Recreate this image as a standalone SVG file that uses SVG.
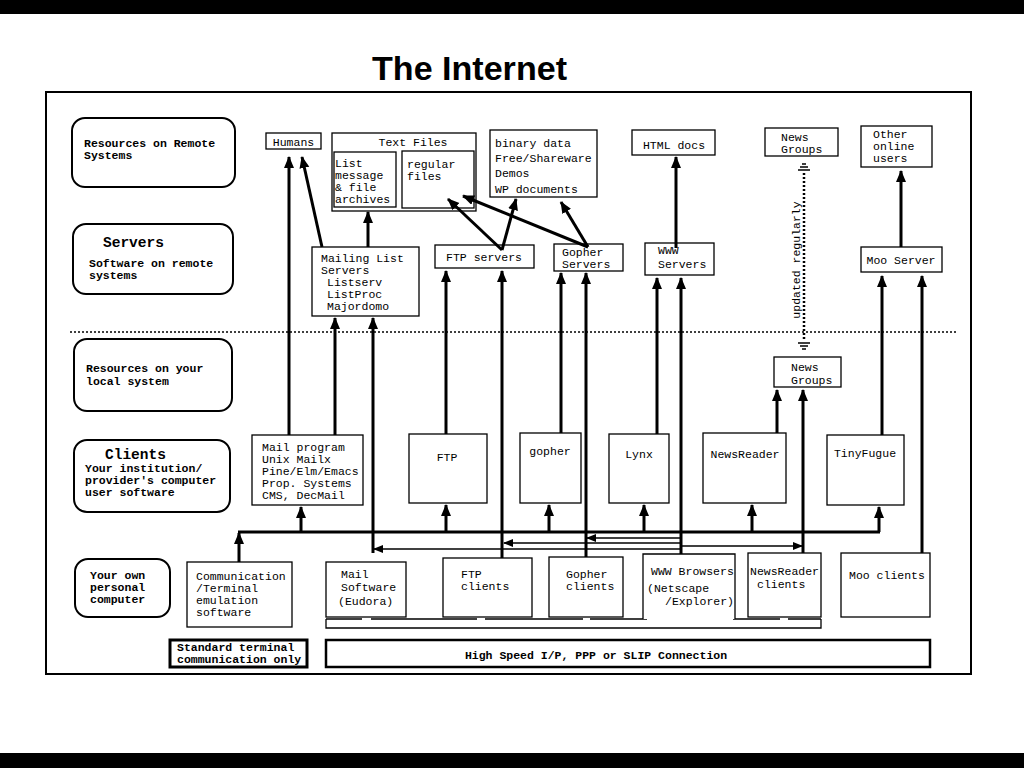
<svg xmlns="http://www.w3.org/2000/svg" width="1024" height="768" viewBox="0 0 1024 768">
<style>
.t{font-family:"Liberation Mono","DejaVu Sans Mono",monospace;font-size:11.5px;fill:#000}
.b{font-weight:bold}
.big{font-size:14.5px}
.m{text-anchor:middle}
.box{fill:#fff;stroke:#000;stroke-width:1.3}
.ln{fill:none;stroke:#000;stroke-width:1.3}
.cat{fill:#fff;stroke:#000;stroke-width:2}
.c{stroke:#000;stroke-width:3;fill:none}
.th{stroke:#000;stroke-width:1.5;fill:none}
.dot{stroke:#000;fill:none;stroke-dasharray:2,2}
</style>
<defs>
<marker id="ah" markerUnits="userSpaceOnUse" markerWidth="14" markerHeight="12" refX="11" refY="5" orient="auto">
<path d="M0,0 L12,5 L0,10 z" fill="#000"/>
</marker>
<marker id="as" markerUnits="userSpaceOnUse" markerWidth="11" markerHeight="10" refX="9" refY="4" orient="auto">
<path d="M0,0 L10,4 L0,8 z" fill="#000"/>
</marker>
</defs>
<rect x="0" y="0" width="1024" height="768" fill="#fff"/>
<rect x="0" y="0" width="1024" height="14" fill="#000"/>
<rect x="0" y="753" width="1024" height="15" fill="#000"/>
<text x="372" y="80" font-family="Liberation Sans,Arial,sans-serif" font-weight="bold" font-size="34" textLength="195" lengthAdjust="spacingAndGlyphs">The Internet</text>
<rect x="46" y="92" width="925" height="582" fill="none" stroke="#000" stroke-width="2"/>
<line class="dot" x1="70" y1="332" x2="957" y2="332" stroke-width="1.3"/>

<g id="cat-remote"><rect class="cat" x="72" y="118" width="163" height="69" rx="13"/>
<text class="t b" x="84" y="147">Resources on Remote</text><text class="t b" x="84" y="159">Systems</text></g>
<g id="cat-servers"><rect class="cat" x="73" y="224" width="160" height="70" rx="13"/>
<text class="t b big" x="103" y="247">Servers</text><text class="t b" x="89" y="267">Software on remote</text><text class="t b" x="89" y="279">systems</text></g>
<g id="cat-local"><rect class="cat" x="74" y="339" width="158" height="72" rx="13"/>
<text class="t b" x="86" y="372">Resources on your</text><text class="t b" x="86" y="385">local system</text></g>
<g id="cat-clients"><rect class="cat" x="74" y="440" width="156" height="72" rx="13"/>
<text class="t b big" x="105" y="459">Clients</text><text class="t b" x="85" y="472">Your institution/</text><text class="t b" x="85" y="484">provider's computer</text><text class="t b" x="85" y="496">user software</text></g>
<g id="cat-pc"><rect class="cat" x="75" y="559" width="95" height="58" rx="13"/>
<text class="t b" x="90" y="579">Your own</text><text class="t b" x="90" y="591">personal</text><text class="t b" x="90" y="603">computer</text></g>

<g id="humans"><rect class="box" x="266" y="133" width="55" height="16"/><text class="t m" x="293.5" y="146">Humans</text></g>
<g id="textfiles"><rect class="box" x="332" y="133" width="144" height="78"/><text class="t m" x="413" y="146">Text Files</text>
<rect class="box" x="334" y="152" width="62" height="55"/>
<text class="t" x="335" y="167">List</text><text class="t" x="335" y="179">message</text><text class="t" x="335" y="191">&amp; file</text><text class="t" x="335" y="203">archives</text>
<rect class="box" x="402" y="151" width="72" height="57"/>
<text class="t" x="407" y="168">regular</text><text class="t" x="407" y="180">files</text></g>
<g id="binary"><rect class="box" x="490" y="130" width="107" height="67"/>
<text class="t" x="495" y="147">binary data</text><text class="t" x="495" y="162">Free/Shareware</text><text class="t" x="495" y="177">Demos</text><text class="t" x="495" y="193">WP documents</text></g>
<g id="htmldocs"><rect class="box" x="632" y="130" width="83" height="25"/><text class="t m" x="674" y="149">HTML docs</text></g>
<g id="newsgroups-remote"><rect class="box" x="765" y="128" width="73" height="28"/><text class="t" x="781" y="141">News</text><text class="t" x="781" y="153">Groups</text></g>
<g id="otherusers"><rect class="box" x="861" y="126" width="71" height="41"/><text class="t" x="873" y="138">Other</text><text class="t" x="873" y="150">online</text><text class="t" x="873" y="162">users</text></g>

<g id="mailinglist"><rect class="box" x="312" y="247" width="107" height="69"/>
<text class="t" x="321" y="262">Mailing List</text><text class="t" x="321" y="274">Servers</text><text class="t" x="327" y="286">Listserv</text><text class="t" x="327" y="298">ListProc</text><text class="t" x="327" y="310">Majordomo</text></g>
<g id="ftpservers"><rect class="box" x="435" y="245" width="99" height="23"/><text class="t m" x="484" y="261">FTP servers</text></g>
<g id="gopherservers"><rect class="box" x="554" y="244" width="69" height="27"/><text class="t" x="562" y="256">Gopher</text><text class="t" x="562" y="268">Servers</text></g>
<g id="wwwservers"><rect class="box" x="645" y="243" width="69" height="32"/><text class="t" x="658" y="254">WWW</text><text class="t" x="658" y="268">Servers</text></g>
<g id="mooserver"><rect class="box" x="861" y="247" width="81" height="25"/><text class="t m" x="901" y="264">Moo Server</text></g>
<g id="newsgroups-local"><rect class="box" x="774" y="357" width="67" height="30"/><text class="t" x="791" y="371">News</text><text class="t" x="791" y="384">Groups</text></g>

<g id="mailprogram"><rect class="box" x="252" y="435" width="111" height="70"/>
<text class="t" x="262" y="451">Mail program</text><text class="t" x="262" y="463">Unix Mailx</text><text class="t" x="262" y="475">Pine/Elm/Emacs</text><text class="t" x="262" y="487">Prop. Systems</text><text class="t" x="262" y="499">CMS, DecMail</text></g>
<g id="ftp"><rect class="box" x="409" y="434" width="78" height="69"/><text class="t m" x="447" y="461">FTP</text></g>
<g id="gopher"><rect class="box" x="520" y="433" width="61" height="70"/><text class="t m" x="550" y="455">gopher</text></g>
<g id="lynx"><rect class="box" x="609" y="434" width="60" height="69"/><text class="t m" x="639" y="458">Lynx</text></g>
<g id="newsreader"><rect class="box" x="703" y="433" width="83" height="70"/><text class="t m" x="745" y="458">NewsReader</text></g>
<g id="tinyfugue"><rect class="box" x="827" y="435" width="77" height="70"/><text class="t m" x="865" y="457">TinyFugue</text></g>

<g id="comm"><rect class="box" x="187" y="562" width="105" height="65"/>
<text class="t" x="196" y="580">Communication</text><text class="t" x="196" y="592">/Terminal</text><text class="t" x="196" y="604">emulation</text><text class="t" x="196" y="616">software</text></g>
<g id="desk"><path class="ln" d="M326,619 H362 M371,619 H477 M485,619 H583 M590,619 H647 M733,619 H780 M788,619 H821 M326,619 V628 H821 V619"/></g>
<g id="mailsoftware"><rect class="box" x="326" y="562" width="80" height="55"/>
<text class="t" x="341" y="578">Mail</text><text class="t" x="341" y="591">Software</text><text class="t" x="338" y="605">(Eudora)</text></g>
<g id="ftpclients"><rect class="box" x="443" y="558" width="89" height="59"/><text class="t" x="461" y="578">FTP</text><text class="t" x="461" y="590">clients</text></g>
<g id="gopherclients"><rect class="box" x="549" y="557" width="74" height="60"/><text class="t" x="566" y="578">Gopher</text><text class="t" x="566" y="590">clients</text></g>
<g id="wwwbrowsers"><path class="box" d="M643,619 V554 H735 V619"/>
<text class="t" x="651" y="575">WWW Browsers</text><text class="t" x="647" y="592">(Netscape</text><text class="t" x="665" y="605">/Explorer)</text></g>
<g id="newsclients"><rect class="box" x="748" y="553" width="73" height="64"/><text class="t" x="750" y="575">NewsReader</text><text class="t" x="757" y="588">clients</text></g>
<g id="mooclients"><rect class="box" x="841" y="553" width="89" height="64"/><text class="t" x="849" y="579">Moo clients</text></g>
<g id="standard"><rect x="170" y="640" width="137" height="27" fill="#fff" stroke="#000" stroke-width="3"/>
<text class="t b" x="177" y="651">Standard terminal</text><text class="t b" x="177" y="663">communication only</text></g>
<g id="highspeed"><rect x="326" y="640" width="604" height="27" fill="#fff" stroke="#000" stroke-width="2.5"/>
<text class="t b m" x="596" y="659">High Speed I/P, PPP or SLIP Connection</text></g>

<g id="connectors">
<path class="c" d="M289,435 V157" marker-end="url(#ah)"/>
<path class="c" d="M322,247 L302,157" marker-end="url(#ah)"/>
<path class="c" d="M368,247 V212" marker-end="url(#ah)"/>
<path class="c" d="M502,250 L448,199" marker-end="url(#ah)"/>
<path class="c" d="M502,250 L516,199" marker-end="url(#ah)"/>
<path class="c" d="M588,247 L463,196" marker-end="url(#ah)"/>
<path class="c" d="M588,247 L561,202" marker-end="url(#ah)"/>
<path class="c" d="M676,248 V157" marker-end="url(#ah)"/>
<path class="c" d="M901,247 V171" marker-end="url(#ah)"/>
<path class="c" d="M335,435 V318" marker-end="url(#ah)"/>
<path class="c" d="M373,553 V318" marker-end="url(#ah)"/>
<path class="c" d="M446,434 V271" marker-end="url(#ah)"/>
<path class="c" d="M502,558 V271" marker-end="url(#ah)"/>
<path class="c" d="M561,433 V273" marker-end="url(#ah)"/>
<path class="c" d="M586,557 V273" marker-end="url(#ah)"/>
<path class="c" d="M657,434 V278" marker-end="url(#ah)"/>
<path class="c" d="M681,554 V278" marker-end="url(#ah)"/>
<path class="c" d="M777,433 V390" marker-end="url(#ah)"/>
<path class="c" d="M803,553 V390" marker-end="url(#ah)"/>
<path class="c" d="M882,435 V276" marker-end="url(#ah)"/>
<path class="c" d="M922,553 V276" marker-end="url(#ah)"/>
<path class="c" d="M238,532 H880"/>
<path class="c" d="M239,562 V533" marker-end="url(#ah)"/>
<path class="c" d="M301,532 V507" marker-end="url(#ah)"/>
<path class="c" d="M446,532 V505" marker-end="url(#ah)"/>
<path class="c" d="M549,532 V505" marker-end="url(#ah)"/>
<path class="c" d="M644,532 V505" marker-end="url(#ah)"/>
<path class="c" d="M752,532 V505" marker-end="url(#ah)"/>
<path class="c" d="M879,532 V507" marker-end="url(#ah)"/>
<path class="th" d="M681,538 H587" marker-end="url(#as)"/>
<path class="th" d="M681,543 H504" marker-end="url(#as)"/>
<path class="th" d="M681,549 H374" marker-end="url(#as)"/>
<path class="th" d="M681,546 H802" marker-end="url(#as)"/>
<line class="dot" x1="804" y1="173" x2="804" y2="341" stroke-width="2.5"/>
<path class="th" d="M802,164 H806 M800,167 H808 M798,170 H810 M798,343 H810 M800,346 H808 M802,349 H806" stroke-width="1.6"/>
<text class="t m" transform="translate(800,260) rotate(-90)">updated regularly</text>
</g>
</svg>
